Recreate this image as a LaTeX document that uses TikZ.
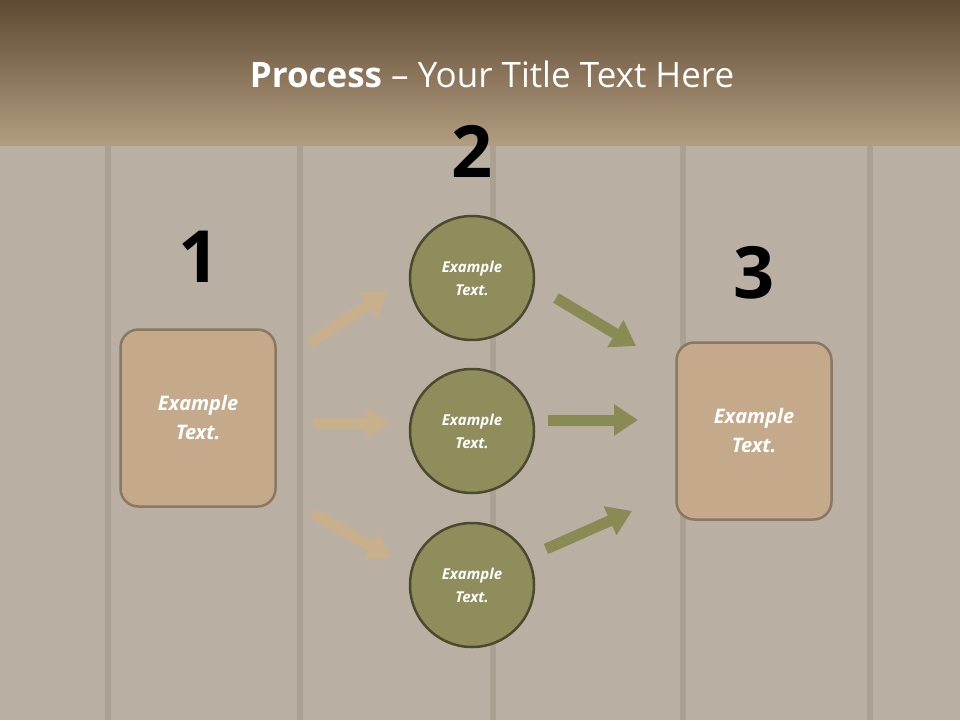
\documentclass[tikz,border=0pt]{standalone}
\usepackage{fontspec}
\setmainfont{Open Sans}
\usetikzlibrary{arrows.meta}
\definecolor{wood}{HTML}{B9AFA3}
\definecolor{plank}{HTML}{ABA193}
\definecolor{htop}{HTML}{5E4A33}
\definecolor{hbot}{HTML}{B39D80}
\definecolor{boxf}{HTML}{C4AA8A}
\definecolor{boxd}{HTML}{8A7862}
\definecolor{circf}{HTML}{8F8D5C}
\definecolor{circd}{HTML}{4A4A2E}
\definecolor{tanar}{HTML}{C8B08C}
\definecolor{olvar}{HTML}{8A8A55}
\tikzset{
 boxn/.style={draw=boxd,line width=2.5pt,fill=boxf,rounded corners=18pt,minimum width=155pt,minimum height=177pt,text=white,font=\bfseries\itshape\fontsize{20}{29}\selectfont,align=center},
 circn/.style={circle,draw=circd,line width=2.5pt,fill=circf,minimum size=124pt,text=white,font=\bfseries\itshape\fontsize{15}{23}\selectfont,align=center},
 num/.style={font=\bfseries\fontsize{72}{76}\selectfont,text=black},
 tarrow/.style={draw=tanar,line width=11pt,-{Triangle[length=24pt,width=30pt]}},
 oarrow/.style={draw=olvar,line width=11pt,-{Triangle[length=24pt,width=30pt]}}
}
\begin{document}
\begin{tikzpicture}[x=1pt,y=-1pt]
\useasboundingbox (0,0) rectangle (960,720);
\fill[wood] (0,0) rectangle (960,720);
\foreach \x in {108,300,493,683,870}{\fill[plank] (\x-3,145) rectangle (\x+3,720);}
\shade[top color=htop,bottom color=hbot] (0,0) rectangle (960,145);
\node[text=white,font=\fontsize{35}{40}\selectfont] (title) at (492,74) {\textbf{Process} -- Your Title Text Here};
\node[boxn] (L) at (198,418) {Example\\Text.};
\node[boxn] (R) at (754,431) {Example\\Text.};
\node[circn] (C1) at (472,278) {Example\\Text.};
\node[circn] (C2) at (472,431) {Example\\Text.};
\node[circn] (C3) at (472,585) {Example\\Text.};
\node[num] (n1) at (199,257) {1};
\node[num] (n2) at (472,151) {2};
\node[num] (n3) at (754,273) {3};
\coordinate (a1s) at (310,343); \coordinate (a1e) at (388,292);
\coordinate (a2s) at (314,423); \coordinate (a2e) at (390,423);
\coordinate (a3s) at (313,513); \coordinate (a3e) at (392,558);
\coordinate (b1s) at (556,298); \coordinate (b1e) at (636,346);
\coordinate (b2s) at (548,420); \coordinate (b2e) at (638,420);
\coordinate (b3s) at (546,549); \coordinate (b3e) at (632,511);
\draw[tarrow] (a1s) -- (a1e);
\draw[tarrow] (a2s) -- (a2e);
\draw[tarrow] (a3s) -- (a3e);
\draw[oarrow] (b1s) -- (b1e);
\draw[oarrow] (b2s) -- (b2e);
\draw[oarrow] (b3s) -- (b3e);
\end{tikzpicture}
\end{document}
